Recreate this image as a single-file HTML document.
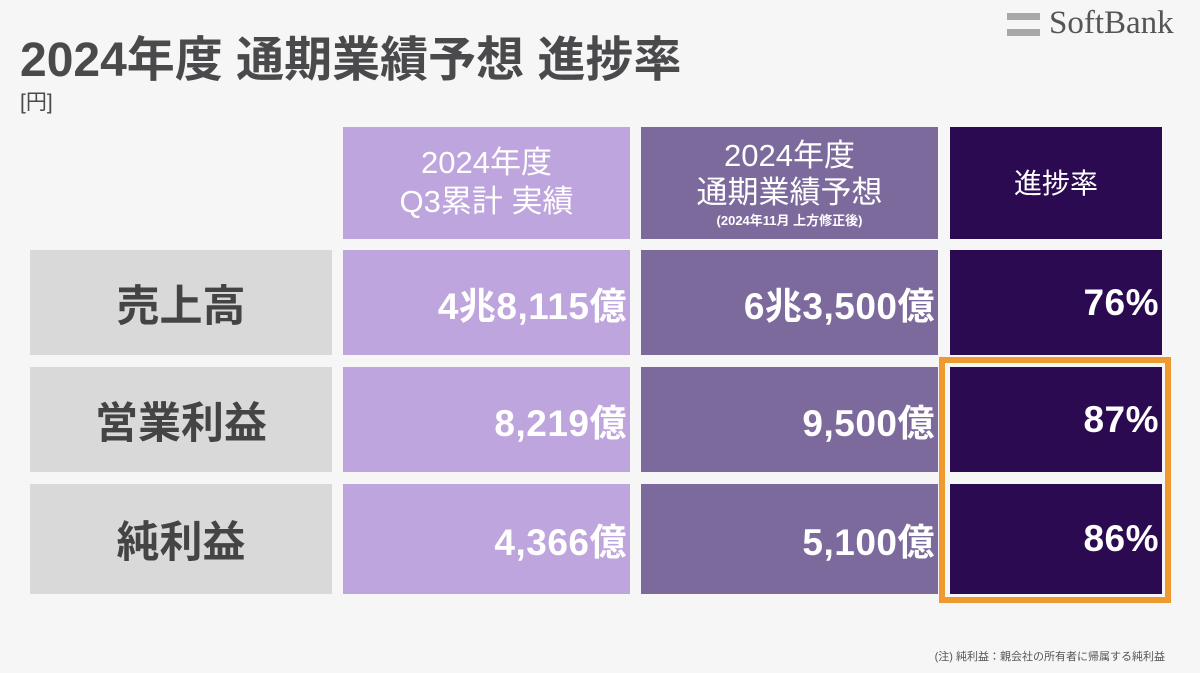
<!DOCTYPE html>
<html><head><meta charset="utf-8">
<style>
body{margin:0;width:1200px;height:673px;background:#f6f6f6;position:relative;overflow:hidden;font-family:"Liberation Sans","Noto Sans CJK JP",sans-serif;}
.a{position:absolute;box-sizing:border-box;}
.title{left:20px;top:20px;font-size:48px;font-weight:bold;color:#4a4a4c;white-space:nowrap;}
.unit{left:20px;top:86px;font-size:21px;color:#4a4a4c;}
.hd{display:flex;flex-direction:column;align-items:center;justify-content:center;color:#fff;text-align:center;line-height:1.25;}
.c1{background:#bfa5dd;}
.c2{background:#7d6a9c;}
.c3{background:#2c0a51;}
.lab{background:#d9d9d9;color:#444;font-size:43px;font-weight:bold;display:flex;align-items:center;justify-content:center;}
.val{color:#fff;font-size:37px;font-weight:bold;display:flex;align-items:center;justify-content:flex-end;padding-right:3px;letter-spacing:0.5px;}
</style></head><body>
<div class="a title">2024年度 通期業績予想 進捗率</div>
<div class="a unit">[円]</div>
<div class="a" style="left:1007px;top:10px;width:172px;height:34px;">
 <div class="a" style="left:0;top:3px;width:33px;height:7px;background:#a8a8a8"></div>
 <div class="a" style="left:0;top:19px;width:33px;height:7px;background:#a8a8a8"></div>
 <div class="a" style="left:42px;top:-5px;font-family:'Liberation Serif',serif;font-size:33px;color:#555;white-space:nowrap">SoftBank</div>
</div>

<div class="a hd c1" style="left:343px;top:127px;width:287px;height:112px;font-size:31px;">2024年度<br>Q3累計 実績</div>
<div class="a hd c2" style="left:641px;top:127px;width:297px;height:112px;font-size:31px;"><div style="line-height:1.2">2024年度<br>通期業績予想</div><div style="font-size:13px;font-weight:bold;margin-top:2px">(2024年11月 上方修正後)</div></div>
<div class="a hd c3" style="left:950px;top:127px;width:212px;height:112px;font-size:28px;">進捗率</div>

<div class="a lab" style="left:30px;top:250px;width:302px;height:105px;">売上高</div>
<div class="a val c1" style="left:343px;top:250px;width:287px;height:105px;">4兆8,115億</div>
<div class="a val c2" style="left:641px;top:250px;width:297px;height:105px;">6兆3,500億</div>
<div class="a val c3" style="left:950px;top:250px;width:212px;height:105px;">76%</div>

<div class="a lab" style="left:30px;top:367px;width:302px;height:105px;">営業利益</div>
<div class="a val c1" style="left:343px;top:367px;width:287px;height:105px;">8,219億</div>
<div class="a val c2" style="left:641px;top:367px;width:297px;height:105px;">9,500億</div>
<div class="a val c3" style="left:950px;top:367px;width:212px;height:105px;">87%</div>

<div class="a lab" style="left:30px;top:484px;width:302px;height:110px;">純利益</div>
<div class="a val c1" style="left:343px;top:484px;width:287px;height:110px;">4,366億</div>
<div class="a val c2" style="left:641px;top:484px;width:297px;height:110px;">5,100億</div>
<div class="a val c3" style="left:950px;top:484px;width:212px;height:110px;">86%</div>

<div class="a" style="left:939px;top:357px;width:232px;height:246px;border:6px solid #ef9a30;"></div>

<div class="a" style="left:870px;top:648px;width:295px;text-align:right;font-size:11px;color:#555;white-space:nowrap">(注) 純利益：親会社の所有者に帰属する純利益</div>
</body></html>
